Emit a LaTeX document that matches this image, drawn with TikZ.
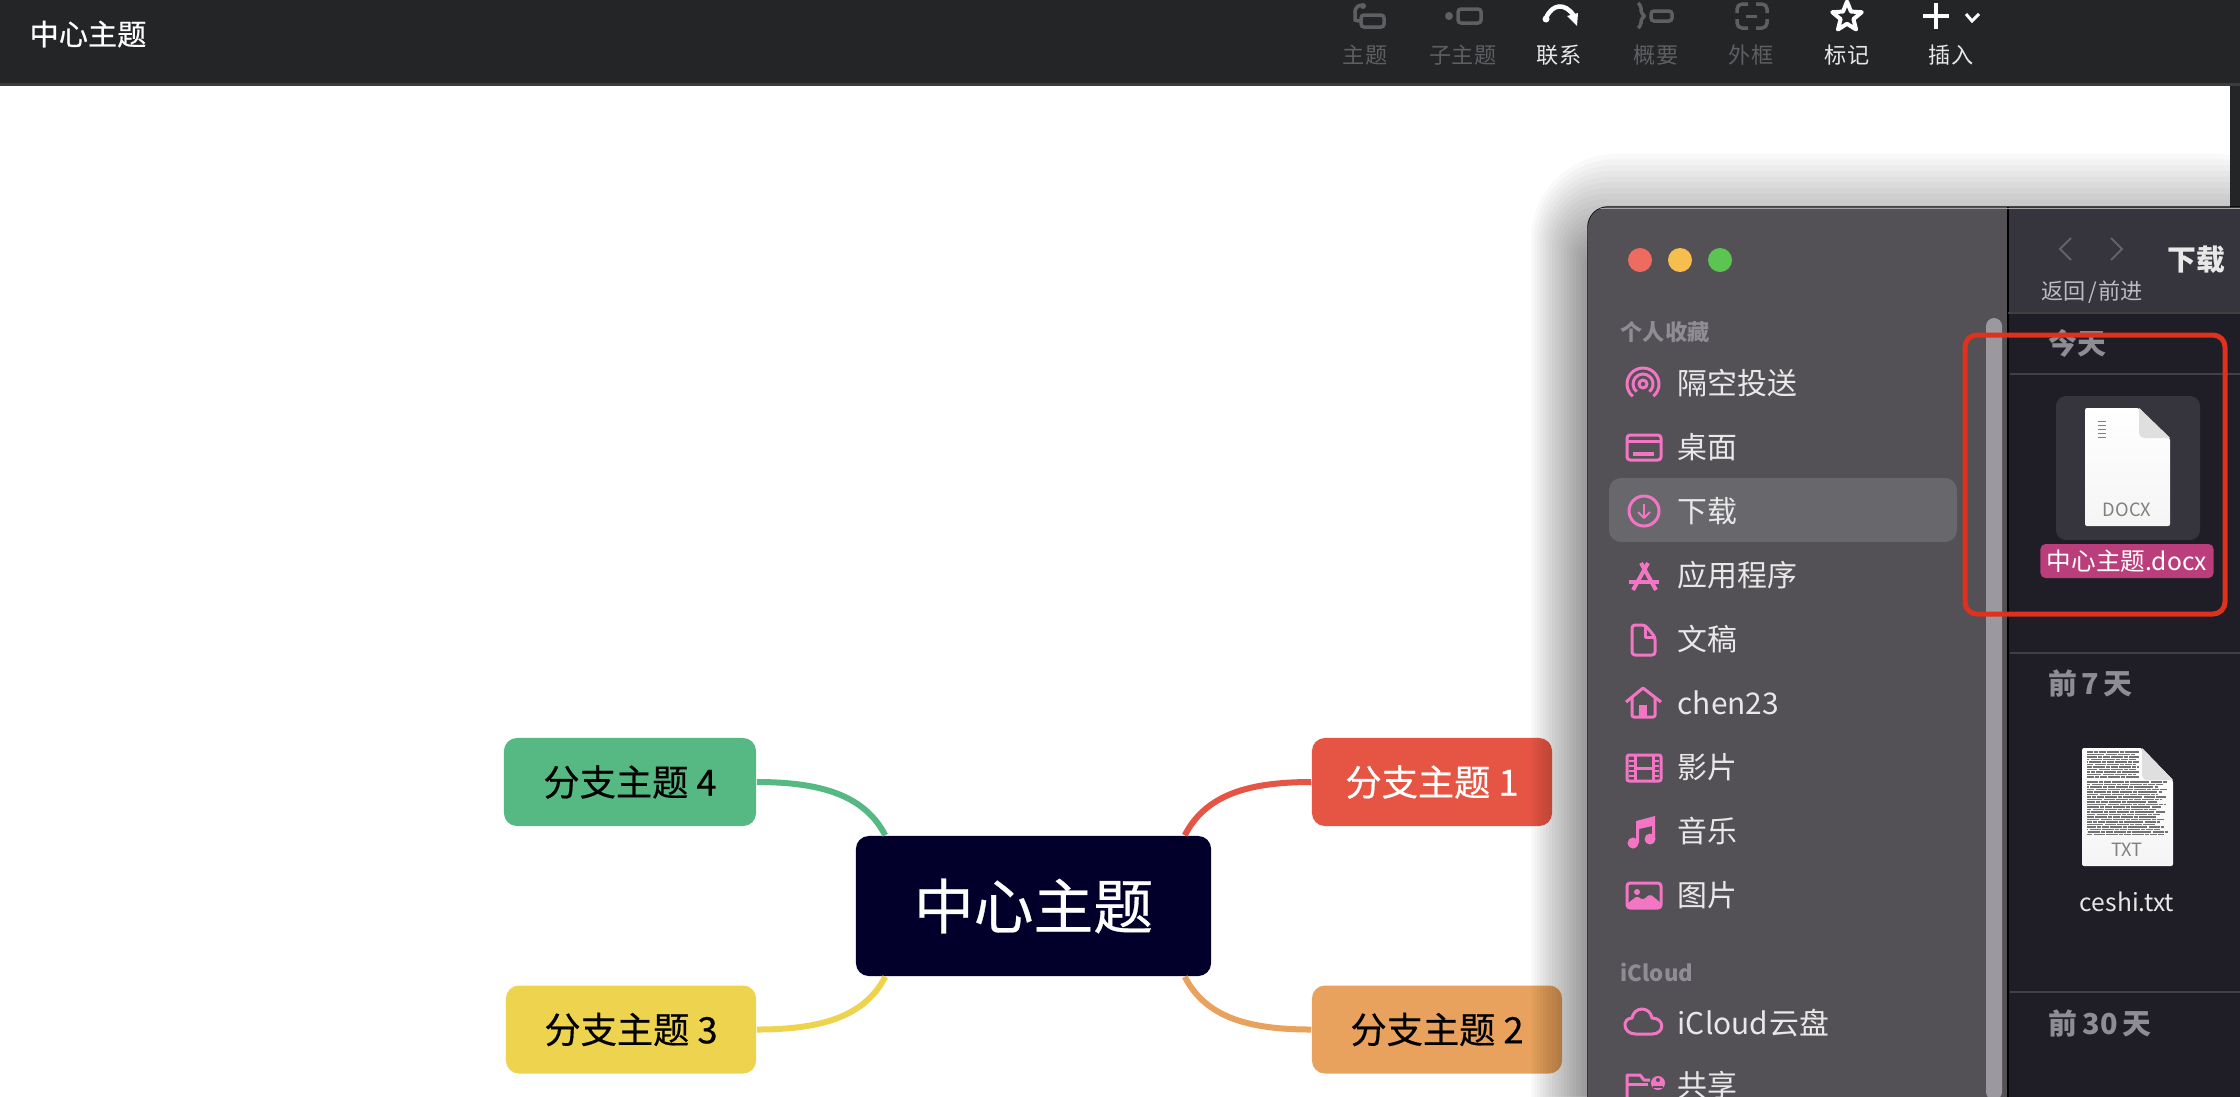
\documentclass[tikz,border=0pt]{standalone}
\usepackage{fontspec}
\setmainfont{Noto Sans CJK SC}
\newfontfamily\mediumfont[FakeBold=0.5]{Noto Sans CJK SC}
\usetikzlibrary{shapes.geometric}
\definecolor{barbg}{HTML}{242527}
\definecolor{barline}{HTML}{3C3C3E}
\definecolor{offgray}{HTML}{5E5F62}
\definecolor{sidebg}{HTML}{535156}
\definecolor{sidehi}{HTML}{68676C}
\definecolor{panebg}{HTML}{1F1D26}
\definecolor{headbg}{HTML}{36343C}
\definecolor{pinkicon}{HTML}{F276C4}
\definecolor{sidetext}{HTML}{E8E8E8}
\definecolor{mutetext}{HTML}{8F8D94}
\definecolor{markred}{HTML}{E0301E}
\definecolor{hubcol}{HTML}{02002A}
\definecolor{redcol}{HTML}{E65444}
\definecolor{orangecol}{HTML}{E8A25D}
\definecolor{yellowcol}{HTML}{EED44E}
\definecolor{greencol}{HTML}{56B984}
\definecolor{scrollcol}{HTML}{9B999F}
\definecolor{filelabel}{HTML}{B93E7B}
\definecolor{closecol}{HTML}{EE6B60}
\definecolor{mincol}{HTML}{F6BE4F}
\definecolor{maxcol}{HTML}{5CC450}
\begin{document}
\begin{tikzpicture}[
    x=0.01cm, y=-0.01cm,
    topic/.style={rounded corners=0.13cm, inner sep=0, minimum height=0.88cm, align=center, font=\mediumfont\fontsize{10.3}{12}\selectfont},
    branch/.style={line width=0.06cm},
    barlabel/.style={font=\fontsize{6.3}{8}\selectfont, text=sidetext},
    barlabeloff/.style={font=\fontsize{6.3}{8}\selectfont, text=offgray},
    baroff/.style={draw=offgray, line width=0.035cm, rounded corners=0.03cm},
    baron/.style={draw=white, line width=0.04cm},
    sideitem/.style={anchor=west, inner sep=0, font=\fontsize{8.5}{10}\selectfont, text=sidetext},
    sidehead/.style={anchor=west, inner sep=0, font=\fontsize{6.3}{8}\selectfont\bfseries, text=mutetext},
    panehead/.style={anchor=west, inner sep=0, font=\fontsize{8.2}{10}\selectfont\bfseries, text=mutetext},
    windot/.style={circle, inner sep=0, minimum size=0.24cm},
    icon/.style={draw=pinkicon, line width=0.03cm, line join=round},
    iconfill/.style={fill=pinkicon},
    rowline/.style={draw=panebg!85!white, line width=0.015cm},
    textline/.style={draw=gray!90!black, line width=0.012cm, dash pattern=on 0.07cm off 0.008cm on 0.12cm off 0.012cm on 0.04cm off 0.008cm}
]
    \clip (0,0) rectangle (2240,1096);
    \fill[white] (0,0) rectangle (2240,1096);

    \node[topic, fill=hubcol, text=white, minimum width=3.55cm, minimum height=1.40cm, font=\mediumfont\fontsize{17}{20}\selectfont] (hub) at (1033.5,906) {中心主题};
    \node[topic, fill=redcol, text=white, minimum width=2.40cm] (topicone) at (1432,782) {分支主题 1};
    \node[topic, fill=orangecol, minimum width=2.50cm] (topictwo) at (1437,1029.5) {分支主题 2};
    \node[topic, fill=yellowcol, minimum width=2.50cm] (topicthree) at (631,1029.5) {分支主题 3};
    \node[topic, fill=greencol, minimum width=2.52cm] (topicfour) at (630,782) {分支主题 4};
    \coordinate (hubone) at ([xshift=-0.27cm]hub.north east);
    \coordinate (hubtwo) at ([xshift=-0.27cm]hub.south east);
    \coordinate (hubthree) at ([xshift=0.30cm]hub.south west);
    \coordinate (hubfour) at ([xshift=0.30cm]hub.north west);
    \draw[branch, redcol] (topicone.west) .. controls +(-62,0) and +(21,-41) .. (hubone);
    \draw[branch, orangecol] (topictwo.west) .. controls +(-62,0) and +(21,41) .. (hubtwo);
    \draw[branch, yellowcol] (topicthree.east) .. controls +(62,0) and +(-21,41) .. (hubthree);
    \draw[branch, greencol] (topicfour.east) .. controls +(62,0) and +(-21,-41) .. (hubfour);

    \foreach \grow in {3,6,...,57} {
        \fill[black, opacity=0.025, rounded corners=\grow*0.015cm] (1588-\grow,262-1.9*\grow) rectangle (2300,1300);
    }

    \fill[barbg] (0,0) rectangle (2240,83);
    \fill[barline] (0,83) rectangle (2240,86);
    \fill[barbg] (2230,86) rectangle (2240,207);
    \node[font=\mediumfont\fontsize{8.3}{10}\selectfont, text=white, inner sep=0] (doctitle) at (88,34) {中心主题};

    \draw[baroff] (1361,15) rectangle (1384,27);
    \draw[baroff] (1362,5) .. controls (1354,6) and (1355,12) .. (1355,17) .. controls (1355,20) and (1357,21) .. (1361,21);
    \fill[offgray] (1363,6) circle (3);
    \node[barlabeloff] (lblsibling) at (1365,55) {主题};
    \fill[offgray] (1449,16) circle (4);
    \draw[baroff] (1458,9) rectangle (1481,23);
    \node[barlabeloff] (lblchild) at (1463,55) {子主题};
    \fill[white] (1546,19) circle (3.5);
    \draw[baron, line width=0.045cm] (1546,18) .. controls (1552,4) and (1565,2) .. (1574,16);
    \fill[white] (1567,16) -- (1578,13) -- (1577,26) -- cycle;
    \node[barlabel] (lbllink) at (1559,55) {联系};
    \draw[baroff, rounded corners=0.02cm] (1638,3) -- (1641,6) -- (1641,13) -- (1645,16) -- (1641,19) -- (1641,25) -- (1638,28);
    \draw[baroff] (1651,11) rectangle (1672,21);
    \node[barlabeloff] (lblsummary) at (1656,55) {概要};
    \draw[baroff, rounded corners=0.05cm] (1748,4) -- (1737,4) -- (1737,13);
    \draw[baroff, rounded corners=0.05cm] (1756,4) -- (1767,4) -- (1767,13);
    \draw[baroff, rounded corners=0.05cm] (1737,19) -- (1737,28) -- (1748,28);
    \draw[baroff, rounded corners=0.05cm] (1767,19) -- (1767,28) -- (1756,28);
    \draw[offgray, line width=0.03cm] (1746,16) -- (1757,16);
    \node[barlabeloff] (lblframe) at (1751,55) {外框};
    \node[star, star points=5, star point ratio=2.3, draw=white, line width=0.04cm, inner sep=0, minimum size=0.31cm, line join=round] (markstar) at (1847,17) {};
    \node[barlabel] (lblmark) at (1847,55) {标记};
    \draw[baron] (1923,16) -- (1949,16);
    \draw[baron] (1936,3) -- (1936,29);
    \draw[baron, line width=0.03cm] (1966,14) -- (1972,21) -- (1979,14);
    \node[barlabel] (lblinsert) at (1951,55) {插入};

    \fill[panebg, draw=black, line width=0.015cm, rounded corners=0.2cm] (1588,207) rectangle (2300,1200);
    \begin{scope}
        \clip[rounded corners=0.2cm] (1588,207) rectangle (2300,1200);
        \fill[sidebg] (1588,207) rectangle (2008,1200);
        \fill[headbg] (2008,207) rectangle (2240,313);
        \fill[black] (2006.5,207) rectangle (2009,1200);
        \fill[black!75] (2008,312) rectangle (2240,314);
        \fill[gray!70] (1590,208) rectangle (2240,209);
    \end{scope}
    \fill[scrollcol, rounded corners=0.08cm] (1986,318) rectangle (2002,1100);
    \draw[rowline] (2010,374) -- (2240,374);
    \draw[rowline] (2010,653) -- (2240,653);
    \draw[rowline] (2010,992) -- (2240,992);

    \fill[sidehi, rounded corners=0.12cm] (1609,478) rectangle (1957,542);
    \node[windot, fill=closecol] (dotclose) at (1640,260) {};
    \node[windot, fill=mincol] (dotmin) at (1680,260) {};
    \node[windot, fill=maxcol] (dotmax) at (1720,260) {};

    \node[sidehead] (favhead) at (1620,332) {个人收藏};
    \node[sideitem] (airdrop) at (1677,383) {隔空投送};
    \node[sideitem] (desktop) at (1677,447) {桌面};
    \node[sideitem] (downloads) at (1677,511) {下载};
    \node[sideitem] (apps) at (1677,575) {应用程序};
    \node[sideitem] (docs) at (1677,639) {文稿};
    \node[sideitem] (home) at (1677,703) {chen23};
    \node[sideitem] (movies) at (1677,767) {影片};
    \node[sideitem] (music) at (1677,831) {音乐};
    \node[sideitem] (photos) at (1677,895) {图片};
    \node[sidehead, font=\fontsize{6.3}{8}\selectfont\bfseries] (cloudhead) at (1620,972) {iCloud};
    \node[sideitem] (clouddrive) at (1677,1023) {iCloud\hspace{0.01cm}云盘};
    \node[sideitem] (shared) at (1677,1085) {共享};

    \draw[icon] (1643,384) ++(130:16) arc (130:410:16);
    \draw[icon] (1643,384) ++(130:10) arc (130:410:10);
    \draw[icon] (1643,384) circle (4);
    \draw[icon, rounded corners=0.03cm] (1627,435) rectangle (1661,460);
    \draw[icon] (1627,441) -- (1661,441);
    \fill[iconfill] (1633,452) rectangle (1654,456);
    \draw[icon] (1644,511) circle (15);
    \draw[icon, line width=0.02cm] (1644,504) -- (1644,518);
    \draw[icon, line width=0.02cm] (1638,512) -- (1644,518) -- (1650,512);
    \draw[icon, line width=0.04cm] (1641,563) -- (1656,590);
    \draw[icon, line width=0.04cm] (1648,563) -- (1633,590);
    \draw[icon, line width=0.04cm] (1629,582) -- (1659,582);
    \draw[icon, rounded corners=0.03cm] (1645,625) -- (1632,625) -- (1632,655) -- (1655,655) -- (1655,637) -- cycle;
    \draw[icon] (1645,625) -- (1645,637) -- (1655,637);
    \draw[icon] (1626,702) -- (1643,688) -- (1661,702);
    \draw[icon, rounded corners=0.02cm] (1632,698) -- (1632,717) -- (1655,717) -- (1655,698);
    \fill[iconfill] (1639,705) rectangle (1647,717);
    \draw[icon, rounded corners=0.02cm] (1627,755) rectangle (1661,781);
    \draw[icon] (1635,755) -- (1635,781);
    \draw[icon] (1653,755) -- (1653,781);
    \draw[icon] (1635,768) -- (1653,768);
    \foreach \rowy in {760,765,770,775} {
        \fill[iconfill] (1629,\rowy) rectangle (1634,\rowy+2);
        \fill[iconfill] (1654,\rowy) rectangle (1659,\rowy+2);
    }
    \fill[iconfill] (1633,843) circle (5.5);
    \fill[iconfill] (1650,839) circle (5.5);
    \fill[iconfill] (1636,843) -- (1636,821) -- (1655,816) -- (1655,839) -- (1652,839) -- (1652,826) -- (1639,829) -- (1639,843) -- cycle;
    \draw[icon, rounded corners=0.03cm] (1627,883) rectangle (1661,908);
    \fill[iconfill] (1637,892) circle (3);
    \fill[iconfill, rounded corners=0.02cm] (1627,908) -- (1627,904) -- (1637,896) -- (1643,900) -- (1650,894) -- (1661,903) -- (1661,908) -- cycle;
    \draw[icon] (1636,1034) .. controls (1622,1034) and (1622,1018) .. (1632,1018) .. controls (1634,1006) and (1650,1006) .. (1652,1018) .. controls (1665,1018) and (1665,1034) .. (1652,1034) -- cycle;
    \draw[icon] (1627,1100) -- (1627,1075) -- (1640,1075) -- (1644,1080) -- (1650,1080);
    \draw[icon] (1627,1084) -- (1648,1084);
    \fill[iconfill] (1658,1083) circle (7);
    \fill[sidebg] (1658,1080) circle (2);
    \fill[sidebg] (1653,1088) rectangle (1663,1086);

    \draw[mutetext!70!black, line width=0.02cm] (2071,238) -- (2060,249) -- (2071,260);
    \draw[mutetext!70!black, line width=0.02cm] (2111,238) -- (2122,249) -- (2111,260);
    \node[anchor=west, inner sep=0, text=sidetext, font=\fontsize{8.2}{10}\selectfont\bfseries] (foldertitle) at (2167,260) {下载};
    \node[anchor=west, inner sep=0, text=mutetext!60!white, font=\fontsize{6.3}{8}\selectfont] (navlabel) at (2041,292) {返回\hspace{0.02cm}/\hspace{0.02cm}前进};
    \node[panehead] (today) at (2048,343) {今天};
    \node[panehead] (lastweek) at (2048,683) {前\hspace{0.04cm}7\hspace{0.04cm}天};
    \node[panehead] (lastmonth) at (2048,1023) {前\hspace{0.05cm}30\hspace{0.05cm}天};

    \fill[headbg, rounded corners=0.1cm] (2056,396) rectangle (2200,540);
    \shade[top color=white, bottom color=gray!8, rounded corners=0.02cm] (2085,408) -- (2139,408) -- (2170,438) -- (2170,526) -- (2085,526) -- cycle;
    \fill[gray!25] (2139,408) -- (2170,438) -- (2146,438) .. controls (2141,438) and (2139,436) .. (2139,431) -- cycle;
    \foreach \rowy in {421,425,429,433,437} {
        \draw[gray, line width=0.008cm] (2098,\rowy) -- (2106,\rowy);
    }
    \node[inner sep=0, text=gray, font=\fontsize{5.2}{6}\selectfont] (docxtag) at (2127,510) {DOCX};
    \node[fill=filelabel, rounded corners=0.05cm, inner sep=0, minimum width=1.73cm, minimum height=0.34cm, text=white, font=\fontsize{7}{8}\selectfont] (docxname) at (2127,561) {中心主题.docx};

    \shade[top color=white, bottom color=gray!8, rounded corners=0.02cm] (2082,748) -- (2142,748) -- (2173,780) -- (2173,866) -- (2082,866) -- cycle;
    \fill[gray!25] (2142,748) -- (2173,780) -- (2148,780) .. controls (2144,780) and (2142,778) .. (2142,774) -- cycle;
    \foreach \rowy in {752,754.5,...,779} {
        \pgfmathsetmacro{\rowend}{2139-mod(\rowy*7,7)}
        \pgfmathsetmacro{\rowskip}{mod(\rowy*3,19)}
        \draw[textline, dash phase=\rowskip*0.01cm] (2087,\rowy) -- (\rowend,\rowy);
    }
    \foreach \rowy in {782,784.5,...,836} {
        \pgfmathsetmacro{\rowend}{2168-mod(\rowy*7,13)}
        \pgfmathsetmacro{\rowskip}{mod(\rowy*3,19)}
        \draw[textline, dash phase=\rowskip*0.01cm] (2087,\rowy) -- (\rowend,\rowy);
    }
    \node[inner sep=0, text=gray, font=\fontsize{5.2}{6}\selectfont] (txttag) at (2127,850) {TXT};
    \node[inner sep=0, text=sidetext, font=\fontsize{7}{8}\selectfont] (txtname) at (2127,902) {ceshi.txt};

    \draw[markred, line width=0.05cm, rounded corners=0.12cm] (1965,335) rectangle (2225,614);
\end{tikzpicture}
\end{document}
